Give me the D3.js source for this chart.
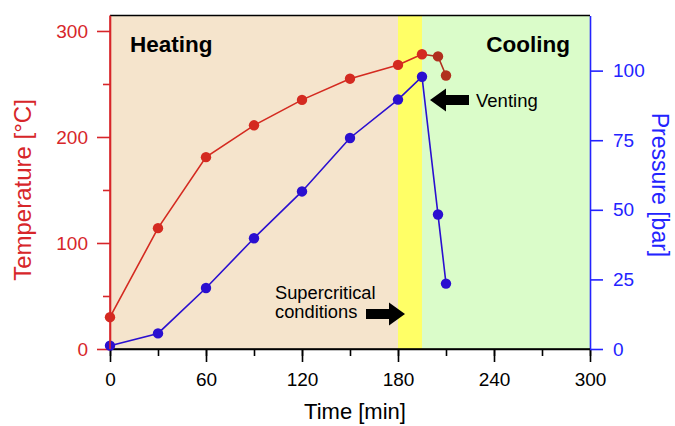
<!DOCTYPE html>
<html><head><meta charset="utf-8">
<script src="https://cdn.jsdelivr.net/npm/d3@7"></script>
<style>body{margin:0;background:#fff}svg{display:block}text{font-family:"Liberation Sans",Arial,sans-serif}</style>
</head><body><svg id="c" width="675" height="426"></svg>
<script>
const time = [0, 30, 60, 90, 120, 150, 180, 195, 205, 210];
const temperature = [30, 114, 181, 211, 235, 255, 268, 278, 276, 258];
const pressure = [1.2, 5.6, 21.9, 39.8, 56.6, 75.8, 89.6, 97.8, 48.3, 23.5];
const phases = [
  {name: "Heating", from: 0, to: 180, color: "#f5e4cc"},
  {name: "Supercritical", from: 180, to: 195, color: "#ffff66"},
  {name: "Cooling", from: 195, to: 300, color: "#dafcc9"}
];
const xTicks = [0, 60, 120, 180, 240, 300];
const tTicks = [0, 100, 200, 300];
const pTicks = [0, 25, 50, 75, 100];

const svg = d3.select("#c");
const L = 110, R = 590, T = 15.5, B = 349;
const x = d3.scaleLinear().domain([0, 300]).range([L, R]);
const yT = d3.scaleLinear().domain([0, 314.6]).range([B, T]);
const yP = d3.scaleLinear().domain([0, 119.8]).range([B, T]);
const RED = "#d7262a", BLUE = "#2323ff", DRED = "#d42a20", DBLUE = "#2a0fd0";
const TICKFS = "19px";

svg.selectAll("rect.ph").data(phases).join("rect")
  .attr("x", d => x(d.from)).attr("width", d => x(d.to) - x(d.from))
  .attr("y", T).attr("height", B - T).attr("fill", d => d.color);

svg.append("line").attr("x1", L).attr("x2", R).attr("y1", T).attr("y2", T).attr("stroke", "#000").attr("stroke-width", 1.5);

function styleAxis(g, color) {
  g.select(".domain").attr("stroke", color).attr("stroke-width", 1.6);
  g.selectAll(".tick line").attr("stroke", color).attr("stroke-width", 1.6);
  g.selectAll(".tick text").attr("fill", color).style("font-size", TICKFS).style("font-family", "Liberation Sans, Arial, sans-serif");
}

// x axis
const gx = svg.append("g").attr("transform", `translate(0,${B})`);
gx.call(d3.axisBottom(x).tickValues(d3.range(0, 301, 30)).tickSize(7).tickSizeOuter(0).tickFormat(""));
gx.selectAll(".tick line").attr("stroke", "#000").attr("stroke-width", 1.6);
gx.select(".domain").attr("stroke", "#000").attr("stroke-width", 1.6);
const gx2 = svg.append("g").attr("transform", `translate(0,${B})`);
gx2.call(d3.axisBottom(x).tickValues(xTicks).tickSize(13).tickPadding(11).tickSizeOuter(0));
gx2.select(".domain").remove();
styleAxis(gx2, "#000");

// left axis
const gl = svg.append("g").attr("transform", `translate(${L},0)`);
gl.call(d3.axisLeft(yT).tickValues([50, 150, 250]).tickSize(7).tickSizeOuter(0).tickFormat(""));
gl.select(".domain").remove();
gl.selectAll(".tick line").attr("stroke", RED).attr("stroke-width", 1.6);
const gl2 = svg.append("g").attr("transform", `translate(${L},0)`);
gl2.call(d3.axisLeft(yT).tickValues(tTicks).tickSize(13).tickPadding(9).tickSizeOuter(0));
styleAxis(gl2, RED);

// right axis
const gr = svg.append("g").attr("transform", `translate(${R},0)`);
gr.call(d3.axisRight(yP).tickValues(pTicks).tickSize(13).tickPadding(10).tickSizeOuter(0));
styleAxis(gr, BLUE);

svg.append("line").attr("x1", L).attr("x2", R).attr("y1", B).attr("y2", B).attr("stroke", "#000").attr("stroke-width", 1.6);

// lines
const tempPts = time.map((t, i) => ({t, v: temperature[i], i}));
const presPts = time.map((t, i) => ({t, v: pressure[i], i}));
const DARK = "#b0301e";
svg.append("path").datum(tempPts.slice(0, 8))
  .attr("d", d3.line().x(d => x(d.t)).y(d => yT(d.v)))
  .attr("fill", "none").attr("stroke", DRED).attr("stroke-width", 1.6);
svg.append("path").datum(tempPts.slice(7))
  .attr("d", d3.line().x(d => x(d.t)).y(d => yT(d.v)))
  .attr("fill", "none").attr("stroke", DARK).attr("stroke-width", 1.6);
svg.append("path").datum(presPts)
  .attr("d", d3.line().x(d => x(d.t)).y(d => yP(d.v)))
  .attr("fill", "none").attr("stroke", DBLUE).attr("stroke-width", 1.6);
svg.selectAll("circle.t").data(tempPts).join("circle")
  .attr("cx", d => x(d.t)).attr("cy", d => yT(d.v)).attr("r", 5.2)
  .attr("fill", d => d.i >= 8 ? DARK : DRED);
svg.selectAll("circle.p").data(presPts).join("circle")
  .attr("cx", d => x(d.t)).attr("cy", d => yP(d.v)).attr("r", 5.2)
  .attr("fill", DBLUE);

svg.append("line").attr("x1", L).attr("x2", L).attr("y1", T).attr("y2", B).attr("stroke", RED).attr("stroke-width", 1.6);

// labels
svg.append("text").attr("x", 130).attr("y", 51.5).attr("font-size", 22.5).attr("font-weight", "bold").text("Heating");
svg.append("text").attr("x", 570).attr("y", 51.5).attr("text-anchor", "end").attr("font-size", 22.5).attr("font-weight", "bold").text("Cooling");
svg.append("text").attr("x", 476).attr("y", 106.7).attr("font-size", 18.5).text("Venting");
svg.append("text").attr("x", 275).attr("y", 299).attr("font-size", 18.3).text("Supercritical");
svg.append("text").attr("x", 275).attr("y", 318).attr("font-size", 18.3).text("conditions");

function arrow(x0, x1, yc, bodyH, headH, headL) {
  const dir = Math.sign(x1 - x0);
  const xh = x1 - dir * headL;
  const pts = [[x0, yc - bodyH / 2], [xh, yc - bodyH / 2], [xh, yc - headH / 2], [x1, yc], [xh, yc + headH / 2], [xh, yc + bodyH / 2], [x0, yc + bodyH / 2]];
  svg.append("polygon").attr("points", pts.map(p => p.join(",")).join(" ")).attr("fill", "#000");
}
arrow(469, 430, 100, 10, 23, 16);
arrow(366, 405, 314, 10, 23, 16);

// axis titles
svg.append("text").attr("x", 355).attr("y", 419).attr("text-anchor", "middle").attr("font-size", 22).text("Time [min]");
svg.append("text").attr("transform", "translate(31,190) rotate(-90)").attr("text-anchor", "middle").attr("font-size", 24).attr("fill", RED).text("Temperature [°C]");
svg.append("text").attr("transform", "translate(652,185) rotate(90)").attr("text-anchor", "middle").attr("font-size", 23).attr("fill", BLUE).text("Pressure [bar]");
</script></body></html>
